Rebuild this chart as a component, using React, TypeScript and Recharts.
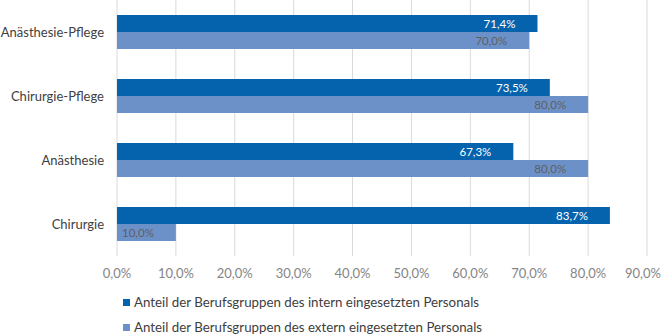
import React from "react";
import { Bar, BarChart, CartesianGrid, LabelList, XAxis, YAxis } from "recharts";

const categories = ["Anästhesie-Pflege", "Chirurgie-Pflege", "Anästhesie", "Chirurgie"];
const internValues = [71.4, 73.5, 67.3, 83.7];
const externValues = [70.0, 80.0, 80.0, 10.0];
const xTicks = [0, 10, 20, 30, 40, 50, 60, 70, 80, 90];
const seriesNames = [
  "Anteil der Berufsgruppen des intern eingesetzten Personals",
  "Anteil der Berufsgruppen des extern eingesetzten Personals",
];

const INTERN = "#0563ae";
const EXTERN = "#6c91c8";
const FONT = "Lato, 'Open Sans', sans-serif";

const data = categories.map((name, i) => ({
  name,
  intern: internValues[i],
  extern: externValues[i],
}));

const pct = (v: number) => `${v.toFixed(1).replace(".", ",")}%`;

export default function App() {
  return (
    <div style={{ position: "absolute", left: 0, top: 0, width: 661, height: 336, background: "#fff", fontFamily: FONT }}>
      <BarChart
        width={661}
        height={284}
        data={data}
        layout="vertical"
        margin={{ top: 0, right: 14, left: 0, bottom: 0 }}
        barCategoryGap={15}
        barGap={0}
      >
        <CartesianGrid horizontal={false} stroke="#d9d9d9" />
        <XAxis
          type="number"
          domain={[0, 90]}
          ticks={xTicks}
          tickFormatter={pct}
          axisLine={false}
          tickLine={false}
          tick={{ fill: "#858585", fontSize: 13, fontFamily: FONT }}
          tickMargin={7}
          height={28}
        />
        <YAxis
          type="category"
          dataKey="name"
          width={117}
          axisLine={false}
          tickLine={false}
          tickMargin={7}
          tick={{ fill: "#404040", fontSize: 13, fontFamily: FONT }}
        />
        <Bar dataKey="intern" fill={INTERN} isAnimationActive={false}>
          <LabelList
            dataKey="intern"
            position="insideRight"
            offset={22}
            formatter={(v: number) => pct(v)}
            style={{ fill: "#ffffff", fontSize: 11.5, fontFamily: FONT }}
          />
        </Bar>
        <Bar dataKey="extern" fill={EXTERN} isAnimationActive={false}>
          <LabelList
            dataKey="extern"
            position="insideRight"
            offset={22}
            formatter={(v: number) => pct(v)}
            style={{ fill: "#5f5f5f", fontSize: 11.5, fontFamily: FONT }}
          />
        </Bar>
      </BarChart>
      <div style={{ position: "absolute", left: 123, top: 290, fontSize: 13.3, color: "#404040", lineHeight: "25px" }}>
        {seriesNames.map((s, i) => (
          <div key={s} style={{ display: "flex", alignItems: "center", whiteSpace: "nowrap" }}>
            <span style={{ width: 7, height: 7, background: i === 0 ? INTERN : EXTERN, marginRight: 4 }} />
            {s}
          </div>
        ))}
      </div>
    </div>
  );
}
